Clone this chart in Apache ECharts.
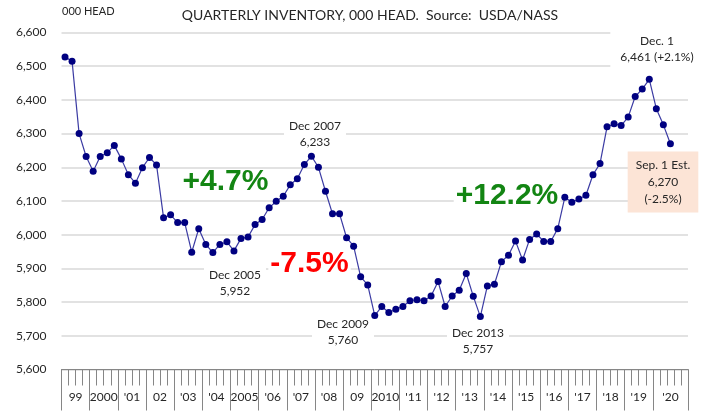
<!DOCTYPE html>
<html>
<head>
<meta charset="utf-8">
<script src="https://cdn.jsdelivr.net/npm/echarts@6/dist/echarts.min.js"></script>
<style>
html,body{margin:0;padding:0;background:#fff;}
#c{width:708px;height:411px;}
</style>
</head>
<body>
<div id="c"></div>
<script>
// Year group labels on the category axis and the number of quarterly slots in each
const yearLabels = ["99","2000","'01","02","'03","'04","2005","'06","'07","'08","09","2010","'11","'12","'13","'14","'15","'16","'17","'18","'19","'20"];
const slotsPerYear = [4,4,4,4,4,4,4,4,4,4,4,4,4,4,4,4,4,4,4,4,4,5];

// Quarterly inventory, 000 head
const inventory = [
  6527, 6515, 6300, 6232, 6188, 6232, 6243, 6265, 6225, 6178,
  6153, 6199, 6229, 6207, 6050, 6059, 6036, 6036, 5948, 6018,
  5971, 5947, 5971, 5979, 5952, 5989, 5993, 6030, 6045, 6080,
  6099, 6114, 6148, 6166, 6208, 6233, 6200, 6129, 6062, 6062,
  5991, 5966, 5875, 5851, 5760, 5787, 5769, 5779, 5787, 5804,
  5807, 5804, 5818, 5861, 5787, 5818, 5835, 5885, 5817, 5757,
  5848, 5853, 5920, 5939, 5981, 5925, 5986, 6002, 5980, 5980,
  6018, 6111, 6096, 6106, 6117, 6178, 6211, 6320, 6329, 6324,
  6349, 6410, 6432, 6461, 6374, 6326, 6270
];

const yMin = 5600, yMax = 6600, yStep = 100;

// Build categories from the year groups
const categories = [];
const groupStart = [];
const groupLabelIndex = {};
yearLabels.forEach((y, gi) => {
  const start = categories.length;
  groupStart.push(start);
  const n = slotsPerYear[gi];
  for (let q = 0; q < n; q++) categories.push(y + ' #' + (q + 1));
  groupLabelIndex[start + Math.floor(n / 2)] = { label: y, even: n % 2 === 0 };
});
const seriesData = categories.map((c, i) => (i < inventory.length ? inventory[i] : null));
const groupStartSet = new Set(groupStart);

const chart = echarts.init(document.getElementById('c'), null, { renderer: 'canvas' });
const FONT = 'Lato, "Open Sans", sans-serif';
const txt = '#262626';

function note(text, x, y, opts) {
  opts = opts || {};
  return {
    type: 'text', x: x, y: y, z: 1,
    style: Object.assign({
      text: text, align: 'center', verticalAlign: 'middle',
      font: (opts.bold ? 'bold ' : '') + (opts.size || 12) + 'px ' + (opts.family || FONT),
      fill: opts.color || txt,
      lineHeight: opts.lh || 16,
      backgroundColor: opts.bg || '#fff',
      padding: opts.pad || [2, 5]
    }, opts.extra || {})
  };
}

chart.setOption({
  animation: false,
  backgroundColor: '#fff',
  grid: { left: 61.5, right: 20, top: 32.5, bottom: 41.5, containLabel: false },
  xAxis: [
    {
      type: 'category', data: categories, boundaryGap: true,
      axisLine: { show: true, lineStyle: { color: '#868686', width: 1 } },
      axisTick: { show: true, interval: 0, length: 16, lineStyle: { color: '#868686', width: 1 } },
      axisLabel: { show: false },
      splitLine: { show: false }
    },
    {
      type: 'category', data: categories, boundaryGap: true, position: 'bottom',
      axisLine: { show: false },
      axisTick: {
        show: true, length: 41,
        interval: function (i) { return groupStartSet.has(i); },
        lineStyle: { color: '#868686', width: 1 }
      },
      axisLabel: {
        show: true, margin: 22,
        interval: function (i) { return groupLabelIndex[i] !== undefined; },
        formatter: function (v, i) {
          const g = groupLabelIndex[i];
          if (!g) return '';
          return g.even ? '{a|' + g.label + '}' : '{b|' + g.label + '}';
        },
        rich: {
          a: { fontFamily: FONT, fontSize: 12, color: txt, padding: [0, 7, 0, 0] },
          b: { fontFamily: FONT, fontSize: 12, color: txt }
        }
      },
      splitLine: { show: false }
    }
  ],
  yAxis: {
    type: 'value', min: yMin, max: yMax, interval: yStep,
    axisLine: { show: false }, axisTick: { show: false },
    axisLabel: {
      margin: 15, fontFamily: FONT, fontSize: 12, color: txt,
      formatter: function (v) { return v.toLocaleString('en-US'); }
    },
    splitLine: { show: true, lineStyle: { color: '#d9d9d9', width: 1.5 } }
  },
  series: [{
    type: 'line', xAxisIndex: 0, data: seriesData,
    symbol: 'circle', symbolSize: 7, showSymbol: true, showAllSymbol: true,
    lineStyle: { color: '#3b3ba3', width: 1.2 },
    itemStyle: { color: '#000080' },
    connectNulls: false, z: 5
  }],
  graphic: [
    { type: 'text', left: 62, top: 6, z: 100,
      style: { text: '000 HEAD', font: '11px ' + FONT, fill: txt } },
    { type: 'text', x: 370, y: 15, z: 100,
      style: { text: 'QUARTERLY INVENTORY, 000 HEAD.  Source:  USDA/NASS', align: 'center', verticalAlign: 'middle', font: '14px ' + FONT, fill: txt } },
    note('Dec 2007\n6,233', 315, 134, { pad: [2, 5] }),
    note('Dec 2005\n5,952', 235, 283),
    note('Dec 2009\n5,760', 343, 332),
    note('Dec 2013\n5,757', 478, 341),
    note('Dec. 1\n6,461 (+2.1%)', 657, 49, { pad: [6, 10] }),
    note('Sep. 1 Est.\n6,270\n(-2.5%)', 663, 182, { lh: 17, bg: '#fce4d6', pad: [5, 8, 5, 8] }),
    note('+4.7%', 225.5, 182, { bold: true, size: 30, color: '#138513', pad: [1, 2], family: '"Liberation Sans", Arial, sans-serif' }),
    note('-7.5%', 309.5, 264, { bold: true, size: 30, color: '#ff0000', pad: [1, 2], family: '"Liberation Sans", Arial, sans-serif' }),
    note('+12.2%', 507, 196, { bold: true, size: 30, color: '#138513', pad: [1, 2], family: '"Liberation Sans", Arial, sans-serif' })
  ]
});
</script>
</body>
</html>
